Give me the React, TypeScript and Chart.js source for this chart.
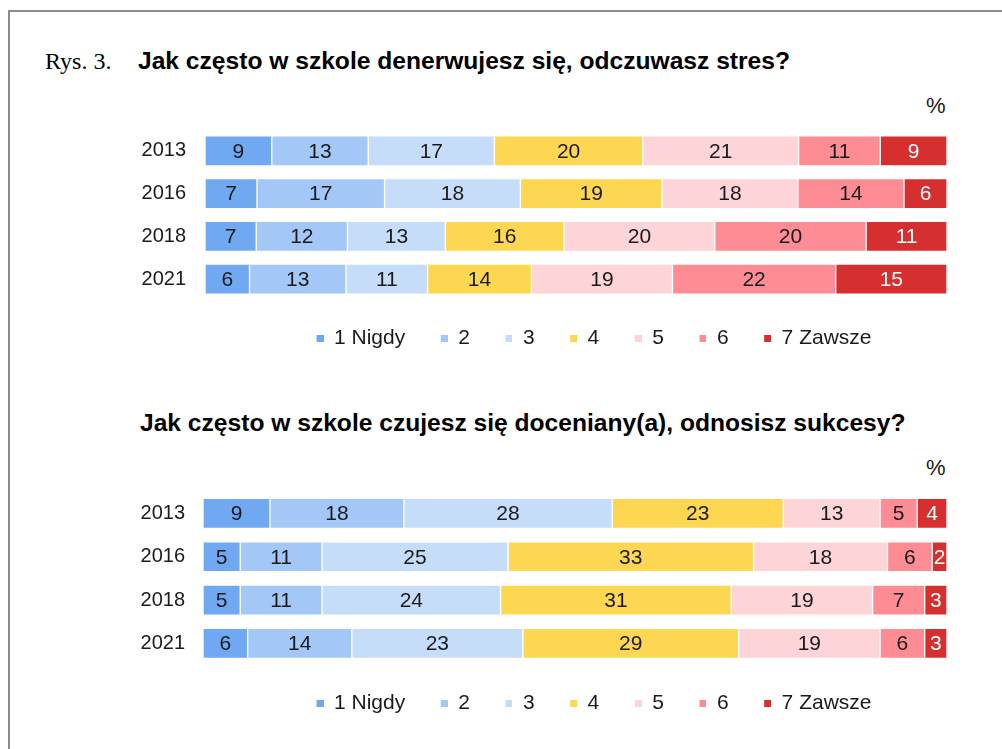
import React, { useEffect, useRef } from 'react';
import { Chart, registerables } from 'chart.js';

Chart.register(...registerables);

// ---------- data ----------
const years = ['2013', '2016', '2018', '2021'];
const seriesLabels = ['1 Nigdy', '2', '3', '4', '5', '6', '7 Zawsze'];
const seriesColors = ['#70A9F1', '#A3C8F7', '#C6DDFA', '#FED752', '#FDD4D7', '#FE8C95', '#D5302F'];

// Chart 1: Jak często w szkole denerwujesz się, odczuwasz stres?
const stress1 = [9, 7, 6.9, 6];
const stress2 = [13, 17.2, 12.3, 13];
const stress3 = [17, 18.3, 13.2, 11];
const stress4 = [20, 19.1, 16.0, 14];
const stress5 = [21, 18.3, 20.3, 19];
const stress6 = [11, 14.3, 20.4, 22];
const stress7 = [9, 5.8, 10.9, 15];

// Chart 2: Jak często w szkole czujesz się doceniany(a), odnosisz sukcesy?
const praise1 = [9, 5, 5, 6];
const praise2 = [18, 11, 11, 14];
const praise3 = [28, 25, 24, 23];
const praise4 = [23, 33, 31, 29];
const praise5 = [13, 18, 19, 19];
const praise6 = [5, 6, 7, 6];
const praise7 = [4, 2, 3, 3];

const figLabel = 'Rys. 3.';
const title1 = 'Jak często w szkole denerwujesz się, odczuwasz stres?';
const title2 = 'Jak często w szkole czujesz się doceniany(a), odnosisz sukcesy?';
const unitLabel = '%';

// ---------- styling ----------
const SANS = '"Liberation Sans", Arial, Helvetica, sans-serif';
const SERIF = '"Liberation Serif", "Times New Roman", serif';
const TEXT = '#1a1a1a';

type Lay = {
  left: number;
  top: number;
  width: number;
  height: number;
  padTop: number;
  padBottom: number;
  padLeft: number;
  yWidth: number;
  rightW: number;
  tickPad: number;
};

const valueLabels = {
  id: 'valueLabels',
  afterDatasetsDraw(chart: any) {
    const ctx = chart.ctx;
    ctx.save();
    ctx.font = `21px ${SANS}`;
    ctx.textAlign = 'center';
    ctx.textBaseline = 'middle';
    chart.data.datasets.forEach((ds: any, i: number) => {
      const meta = chart.getDatasetMeta(i);
      meta.data.forEach((bar: any, j: number) => {
        const v = ds.data[j];
        const p = bar.getCenterPoint();
        ctx.fillStyle = i === 6 ? '#ffffff' : TEXT;
        ctx.fillText(String(Math.round(v)), p.x, p.y + 1);
      });
    });
    ctx.restore();
  },
};

function makeSwatches() {
  return seriesColors.map((c) => {
    const cv = document.createElement('canvas');
    cv.width = 15;
    cv.height = 7;
    const g = cv.getContext('2d')!;
    g.fillStyle = c;
    g.fillRect(8, 0, 7, 7);
    return cv;
  });
}

function buildChart(canvas: HTMLCanvasElement, series: number[][], lay: Lay) {
  const swatches = makeSwatches();
  return new Chart(canvas, {
    type: 'bar',
    data: {
      labels: years,
      datasets: series.map((d, i) => ({
        label: seriesLabels[i],
        data: d,
        backgroundColor: seriesColors[i],
        borderColor: '#ffffff',
        borderWidth: 1,
        borderSkipped: false,
        barThickness: 30,
      })),
    },
    options: {
      indexAxis: 'y',
      responsive: true,
      maintainAspectRatio: false,
      animation: false,
      layout: { padding: { left: lay.padLeft, right: 0, top: lay.padTop, bottom: lay.padBottom } },
      scales: {
        x: { stacked: true, min: 0, max: 100, display: false },
        y: {
          stacked: true,
          grid: { display: false, drawTicks: false },
          border: { display: false },
          ticks: { color: TEXT, font: { family: SANS, size: 20 }, padding: lay.tickPad },
          afterFit: (s: any) => {
            s.width = lay.yWidth;
          },
        },
        y2: {
          type: 'category',
          position: 'right',
          grid: { display: false, drawTicks: false },
          border: { display: false },
          ticks: { display: false },
          afterFit: (s: any) => {
            s.width = lay.rightW;
          },
        },
      },
      plugins: {
        legend: {
          position: 'bottom',
          labels: {
            usePointStyle: true,
            pointStyleWidth: 15,
            padding: 27.5,
            color: TEXT,
            font: { family: SANS, size: 21 },
            generateLabels: (chart: any) => {
              const items = (Chart.defaults.plugins.legend.labels as any).generateLabels(chart);
              items.forEach((it: any, i: number) => {
                it.pointStyle = swatches[i];
                it.lineWidth = 0;
              });
              return items;
            },
          },
        },
        tooltip: { enabled: false },
      },
    } as any,
    plugins: [valueLabels],
  });
}

const lay1: Lay = { left: 100, top: 95, width: 940, height: 275, padTop: 34.6, padBottom: 11.1, padLeft: 40, yWidth: 65, rightW: 93, tickPad: 19 };
const lay2: Lay = { left: 100, top: 457, width: 940, height: 283, padTop: 34.8, padBottom: 16.5, padLeft: 40, yWidth: 63, rightW: 93, tickPad: 18 };

function BarBlock({ series, lay }: { series: number[][]; lay: Lay }) {
  const ref = useRef<HTMLCanvasElement | null>(null);
  useEffect(() => {
    if (!ref.current) return;
    const chart = buildChart(ref.current, series, lay);
    return () => chart.destroy();
  }, []);
  return (
    <div style={{ position: 'absolute', left: lay.left, top: lay.top, width: lay.width, height: lay.height }}>
      <canvas ref={ref} />
    </div>
  );
}

const abs = (extra: React.CSSProperties): React.CSSProperties => ({
  position: 'absolute',
  whiteSpace: 'nowrap',
  lineHeight: 1,
  color: '#000',
  ...extra,
});

export default function App() {
  const s1 = [stress1, stress2, stress3, stress4, stress5, stress6, stress7];
  const s2 = [praise1, praise2, praise3, praise4, praise5, praise6, praise7];
  return (
    <div style={{ position: 'fixed', left: 0, top: 0, width: 1002, height: 749, overflow: 'hidden', background: '#fff' }}>
      <div
        style={{
          position: 'absolute',
          left: 8,
          top: 10,
          width: 1100,
          height: 900,
          borderTop: '2px solid #8c8c8c',
          borderLeft: '2px solid #8c8c8c',
        }}
      />
      <div style={abs({ left: 45, top: 49, fontFamily: SERIF, fontSize: 24 })}>{figLabel}</div>
      <div style={abs({ left: 138, top: 48.6, fontFamily: SANS, fontSize: 24.6, fontWeight: 'bold' })}>{title1}</div>
      <div style={abs({ left: 926, top: 94.7, fontFamily: SANS, fontSize: 22, color: TEXT })}>{unitLabel}</div>
      <BarBlock series={s1} lay={lay1} />
      <div style={abs({ left: 140, top: 411, fontFamily: SANS, fontSize: 24.6, fontWeight: 'bold' })}>{title2}</div>
      <div style={abs({ left: 926, top: 456.7, fontFamily: SANS, fontSize: 22, color: TEXT })}>{unitLabel}</div>
      <BarBlock series={s2} lay={lay2} />
    </div>
  );
}
